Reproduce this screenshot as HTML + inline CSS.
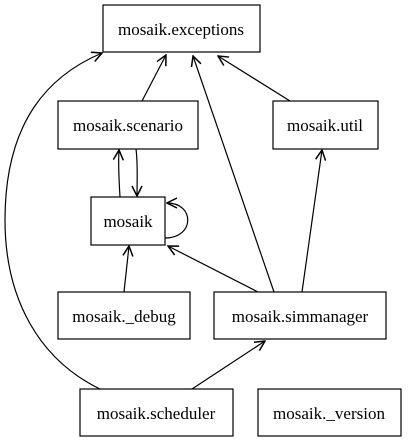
<!DOCTYPE html>
<html><head><style>body{margin:0;background:#fff}svg{display:block}text{font-family:"Liberation Serif",serif;font-size:17px;text-anchor:middle}</style></head>
<body>
<svg width="408" height="443" viewBox="0 0 408 443">
<defs><marker id="a" viewBox="0 0 12 12" refX="11" refY="6" markerWidth="12" markerHeight="12" markerUnits="userSpaceOnUse" orient="auto"><path d="M1,1 L11,6 L1,11" fill="none" stroke="#000" stroke-width="1.5"/></marker></defs>
<g fill="#fff" stroke="#000" stroke-width="1.2">
<rect x="103" y="5" width="157" height="47"/>
<rect x="58" y="101" width="140" height="48"/>
<rect x="273" y="101" width="105" height="48"/>
<rect x="91" y="197" width="74" height="48"/>
<rect x="58" y="292" width="132" height="47"/>
<rect x="214" y="292" width="172" height="47"/>
<rect x="80" y="389" width="153" height="47"/>
<rect x="258" y="389" width="143" height="47"/>
</g>
<g fill="none" stroke="#000" stroke-width="1.2" marker-end="url(#a)">
<path d="M142,101 L166,55"/>
<path d="M290,101 L218,56"/>
<path d="M274,292 L193,56"/>
<path d="M100,389 C40,360 5,300 5,220 C5,120 50,75 102,53"/>
<path d="M120,197 C119,180 118,165 119,150"/>
<path d="M136,149 C138,165 137,180 137,196"/>
<path d="M165,238 C195,238 195,203 167,203"/>
<path d="M124,292 L129,246"/>
<path d="M258,292 L168,246"/>
<path d="M302,292 L322,150"/>
<path d="M192,389 L265,341"/>
</g>
<text x="181" y="35">mosaik.exceptions</text>
<text x="128" y="131">mosaik.scenario</text>
<text x="325" y="131">mosaik.util</text>
<text x="128" y="227">mosaik</text>
<text x="124" y="322">mosaik._debug</text>
<text x="300" y="322">mosaik.simmanager</text>
<text x="156" y="419">mosaik.scheduler</text>
<text x="329" y="419">mosaik._version</text>
</svg>
</body></html>
